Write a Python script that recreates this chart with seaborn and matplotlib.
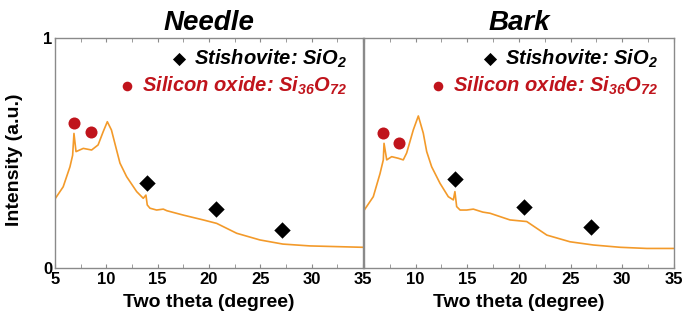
import numpy as np
import pandas as pd
from matplotlib import pyplot as plt
import seaborn as sns

# XRD curves (two theta in degree, normalised intensity)
needle_x = [5.0, 5.8, 6.46, 6.72, 6.85, 7.05, 7.76, 8.57, 9.2, 9.7, 10.1, 10.5, 11.0,
            11.33, 11.98, 12.96, 13.6, 13.86, 13.99, 14.25, 14.9, 15.55, 15.9, 17.5,
            19.44, 20.75, 22.7, 24.96, 27.2, 29.83, 32.4, 35.0]
needle_y = [0.30, 0.353, 0.44, 0.49, 0.585, 0.506, 0.52, 0.513, 0.535, 0.593, 0.636, 0.60, 0.513,
            0.456, 0.397, 0.332, 0.303, 0.317, 0.274, 0.26, 0.252, 0.256, 0.249, 0.23,
            0.209, 0.194, 0.151, 0.122, 0.104, 0.096, 0.093, 0.09]

bark_x = [5.0, 5.9, 6.55, 6.87, 6.94, 7.2, 7.68, 8.32, 8.8, 9.13, 9.77, 10.26, 10.74,
          11.07, 11.55, 12.36, 13.16, 13.65, 13.8, 13.97, 14.3, 14.94, 15.58, 16.5,
          17.2, 19.13, 20.75, 22.7, 24.94, 27.2, 29.8, 32.37, 35.0]
bark_y = [0.25, 0.31, 0.41, 0.47, 0.542, 0.47, 0.484, 0.477, 0.47, 0.50, 0.60, 0.661, 0.586,
          0.506, 0.44, 0.368, 0.31, 0.296, 0.332, 0.267, 0.252, 0.252, 0.256, 0.243,
          0.238, 0.209, 0.202, 0.143, 0.114, 0.10, 0.09, 0.085, 0.085]

# phase markers
needle_oxide_x = [6.85, 8.47]
needle_oxide_y = [0.632, 0.59]
needle_stish_x = [13.93, 20.67, 27.14]
needle_stish_y = [0.371, 0.255, 0.165]

bark_oxide_x = [6.81, 8.42]
bark_oxide_y = [0.586, 0.545]
bark_stish_x = [13.8, 20.52, 27.0]
bark_stish_y = [0.386, 0.267, 0.177]

panels = ['Needle', 'Bark']
x_ticks = [5, 10, 15, 20, 25, 30, 35]

sns.set_style('ticks')
plt.rcParams['font.family'] = ['Liberation Sans', 'DejaVu Sans']
plt.rcParams['font.weight'] = 'bold'
plt.rcParams['text.color'] = 'black'
plt.rcParams['axes.labelcolor'] = 'black'
plt.rcParams['mathtext.fontset'] = 'custom'
plt.rcParams['mathtext.rm'] = 'Liberation Sans:bold:italic'
plt.rcParams['mathtext.it'] = 'Liberation Sans:bold:italic'
plt.rcParams['mathtext.bf'] = 'Liberation Sans:bold:italic'

orange = '#F39A2A'
red = '#C0141C'
spine = '#8a8a8a'

fig = plt.figure(figsize=(6.82, 3.2), dpi=100)
ax1 = fig.add_axes([0.0806, 0.1625, 0.4516, 0.7188])
ax2 = fig.add_axes([0.5337, 0.1625, 0.4545, 0.7188])

data = [
    (needle_x, needle_y, needle_stish_x, needle_stish_y, needle_oxide_x, needle_oxide_y),
    (bark_x, bark_y, bark_stish_x, bark_stish_y, bark_oxide_x, bark_oxide_y),
]

leg_kw = dict(loc='upper right', frameon=False, handletextpad=0.25,
              borderaxespad=0.0, borderpad=0.2, markerscale=0.8, handlelength=1.0,
              prop={'weight': 'bold', 'style': 'italic', 'size': 14.5})

for i, (ax, name, d) in enumerate(zip([ax1, ax2], panels, data)):
    cx, cy, sx, sy, ox, oy = d
    curve = pd.DataFrame({'theta': cx, 'intensity': cy})
    sns.lineplot(data=curve, x='theta', y='intensity', ax=ax, color=orange,
                 linewidth=1.2, legend=False)
    sns.scatterplot(x=sx, y=sy, ax=ax, marker='D', s=70, color='black',
                    edgecolor='black', linewidth=0, label='Stishovite: SiO$_{2}$', zorder=5)
    sns.scatterplot(x=ox, y=oy, ax=ax, marker='o', s=75, color=red,
                    edgecolor=red, linewidth=0, label='Silicon oxide: Si$_{36}$O$_{72}$', zorder=5)

    ax.set_xlim(5, 35)
    ax.set_ylim(0, 1)
    ax.set_xticks(x_ticks)
    ax.set_xticks(np.arange(5, 35.1, 2.5), minor=True)
    ax.tick_params(axis='x', which='both', direction='in', top=True, length=3,
                   color=spine, labelcolor='black', labelsize=12, pad=3)
    ax.tick_params(axis='y', which='both', length=0, labelcolor='black',
                   labelsize=12, pad=2)
    for s in ax.spines.values():
        s.set_color(spine)
        s.set_linewidth(1.0)
    ax.set_xlabel('Two theta (degree)', fontsize=14, fontweight='bold', labelpad=5)
    ax.set_title(name, fontsize=20, fontweight='bold', style='italic', pad=6,
                 color='black')

    # two right-aligned legend rows, one per phase
    handles, labels = ax.get_legend_handles_labels()
    leg1 = ax.legend(handles[:1], labels[:1], bbox_to_anchor=(0.962, 0.975), **leg_kw)
    leg1.get_texts()[0].set_color('black')
    ax.add_artist(leg1)
    leg2 = ax.legend(handles[1:], labels[1:], bbox_to_anchor=(0.962, 0.86), **leg_kw)
    leg2.get_texts()[0].set_color(red)

    if i == 0:
        ax.set_yticks([0, 1])
        ax.set_yticklabels(['0', '1'])
        ax.set_ylabel('Intensity (a.u.)', fontsize=14, fontweight='bold', labelpad=6)
        ax.yaxis.set_label_coords(-0.105, 0.47)
    else:
        ax.set_yticks([])
        ax.set_ylabel('')
        ax.set_xticklabels([''] + [str(t) for t in x_ticks[1:]])

plt.savefig('out.png', dpi=100)
